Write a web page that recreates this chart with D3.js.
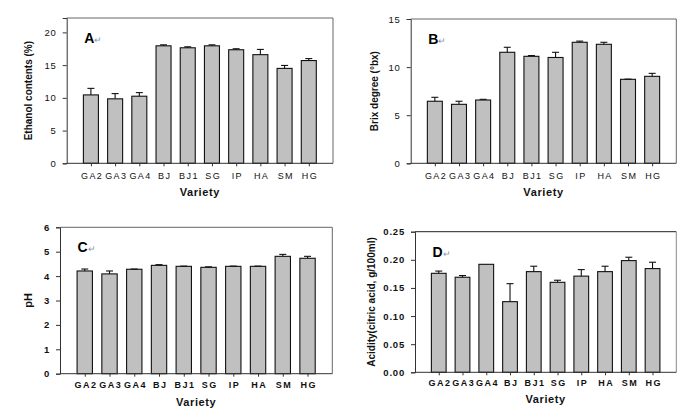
<!DOCTYPE html>
<html><head><meta charset="utf-8">
<script src="https://cdn.jsdelivr.net/npm/d3@7"></script>
<style>body{margin:0;background:#fff}svg{display:block}text{font-family:"Liberation Sans",Arial,sans-serif}</style>
</head><body><svg id="c" width="688" height="420"></svg>
<script>
const categories = ["GA2","GA3","GA4","BJ","BJ1","SG","IP","HA","SM","HG"];
const ethanol = [10.45, 9.85, 10.25, 17.95, 17.65, 17.95, 17.35, 16.6, 14.5, 15.7];
const ethanolErr = [1.0, 0.8, 0.55, 0.15, 0.15, 0.15, 0.15, 0.8, 0.45, 0.3];
const brix = [6.45, 6.13, 6.58, 11.54, 11.12, 11.0, 12.58, 12.37, 8.73, 9.04];
const brixErr = [0.41, 0.32, 0.07, 0.52, 0.08, 0.54, 0.12, 0.21, 0.02, 0.31];
const ph = [4.21, 4.09, 4.28, 4.44, 4.40, 4.36, 4.40, 4.40, 4.81, 4.73];
const phErr = [0.08, 0.12, 0.01, 0.03, 0.01, 0.02, 0.01, 0.01, 0.08, 0.08];
const acidity = [0.176, 0.169, 0.192, 0.1256, 0.179, 0.160, 0.171, 0.179, 0.1986, 0.1844];
const acidityErr = [0.004, 0.003, 0.0, 0.032, 0.0096, 0.0037, 0.0116, 0.0096, 0.006, 0.0113];
const yTicksA = [0,5,10,15,20];
const yTicksB = [0,5,10,15];
const yTicksC = [0,1,2,3,4,5,6];
const yTicksD = [0,0.05,0.10,0.15,0.20,0.25];

const panels = [
  {id:"A", vals:ethanol, errs:ethanolErr, ticks:yTicksA, max:22.2, fmt:d3.format("d"), ylabel:"Ethanol contents (%)",
   L:66.7, R:333, T:18, B:163.3, ylx:28, xtickDy:15.5, xlabY:196, bold:false},
  {id:"B", vals:brix, errs:brixErr, ticks:yTicksB, max:15, fmt:d3.format("d"), ylabel:"Brix degree (°bx)",
   L:410.7, R:676.3, T:19, B:163.3, ylx:374, xtickDy:15.5, xlabY:196, bold:false},
  {id:"C", vals:ph, errs:phErr, ticks:yTicksC, max:6, fmt:d3.format("d"), ylabel:"pH",
   L:60, R:332.3, T:227.3, B:373.7, ylx:28, xtickDy:14.5, xlabY:406, bold:true},
  {id:"D", vals:acidity, errs:acidityErr, ticks:yTicksD, max:0.25, fmt:d3.format(".2f"), ylabel:"Acidity(citric acid, g/100ml)",
   L:415, R:676.3, T:231.7, B:372.3, ylx:371, xtickDy:14, xlabY:403, bold:true}
];

const svg = d3.select("#c");
panels.forEach(p => {
  const g = svg.append("g");
  const x = d3.scalePoint().domain(categories).range([p.L, p.R]).padding(1);
  const y = d3.scaleLinear().domain([0, p.max]).range([p.B, p.T]);
  const bw = x.step() * 0.62;

  // frame top/right
  g.append("line").attr("x1",p.L).attr("x2",p.R).attr("y1",p.T).attr("y2",p.T)
    .attr("stroke", p.id==="D" ? "#222" : "#666");
  g.append("line").attr("x1",p.R).attr("x2",p.R).attr("y1",p.T).attr("y2",p.B)
    .attr("stroke", p.id==="D" ? "#888" : "#666");

  // bars
  g.selectAll("rect.bar").data(p.vals).join("rect").attr("class","bar")
    .attr("x",(d,i)=>x(categories[i])-bw/2).attr("width",bw)
    .attr("y",d=>y(d)).attr("height",d=>p.B-y(d))
    .attr("fill","#c0c0c0").attr("stroke","#111").attr("stroke-width",1.1);

  // error bars (upper)
  p.vals.forEach((v,i)=>{
    const e = p.errs[i];
    if (e <= 0) return;
    const cx = x(categories[i]);
    g.append("line").attr("x1",cx).attr("x2",cx).attr("y1",y(v)).attr("y2",y(v+e)).attr("stroke","#111").attr("stroke-width",1.1);
    g.append("line").attr("x1",cx-3.5).attr("x2",cx+3.5).attr("y1",y(v+e)).attr("y2",y(v+e)).attr("stroke","#111").attr("stroke-width",1.1);
  });

  // axes
  const ya = g.append("g").attr("transform",`translate(${p.L},0)`)
    .call(d3.axisLeft(y).tickValues(p.ticks).tickFormat(p.fmt).tickSize(4).tickPadding(6));
  ya.select(".domain").attr("stroke","#333");
  ya.selectAll(".tick line").attr("stroke","#333");
  ya.selectAll("text").attr("font-size",9.5).attr("font-weight",p.bold?"bold":"normal").attr("fill","#111").attr("letter-spacing","0.8px");

  const xa = g.append("g").attr("transform",`translate(0,${p.B})`)
    .call(d3.axisBottom(x).tickSize(3).tickPadding(6));
  xa.select(".domain").attr("d",`M${p.L},0H${p.R}`).attr("stroke","#333");
  xa.selectAll(".tick line").attr("stroke","#333");
  xa.selectAll("text").attr("font-size",9).attr("font-weight",p.bold?"bold":"normal").attr("fill","#111")
    .attr("letter-spacing","1.4px").attr("dx","0.7px").attr("dy",null).attr("y",p.xtickDy);

  // axis titles
  g.append("text").attr("x",(p.L+p.R)/2).attr("y",p.xlabY).attr("text-anchor","middle")
    .attr("font-size",11).attr("font-weight","bold").attr("letter-spacing","0.6px").attr("fill","#111").text("Variety");
  g.append("text").attr("transform",`translate(${p.ylx},${(p.T+p.B)/2}) rotate(-90)`)
    .attr("text-anchor","middle").attr("dy","0.35em").attr("font-size",p.id==="C"?11:10).attr("font-weight","bold").attr("fill","#111")
    .text(p.ylabel);

  // panel label
  const lt = g.append("text").attr("x", p.L + 17.5).attr("y", p.T + 25).attr("font-size",14).attr("font-weight","bold").attr("fill","#000");
  lt.append("tspan").text(p.id);
  lt.append("tspan").attr("font-size",9).attr("font-weight","normal").attr("fill","#8899aa").text("↵");
});
</script></body></html>
